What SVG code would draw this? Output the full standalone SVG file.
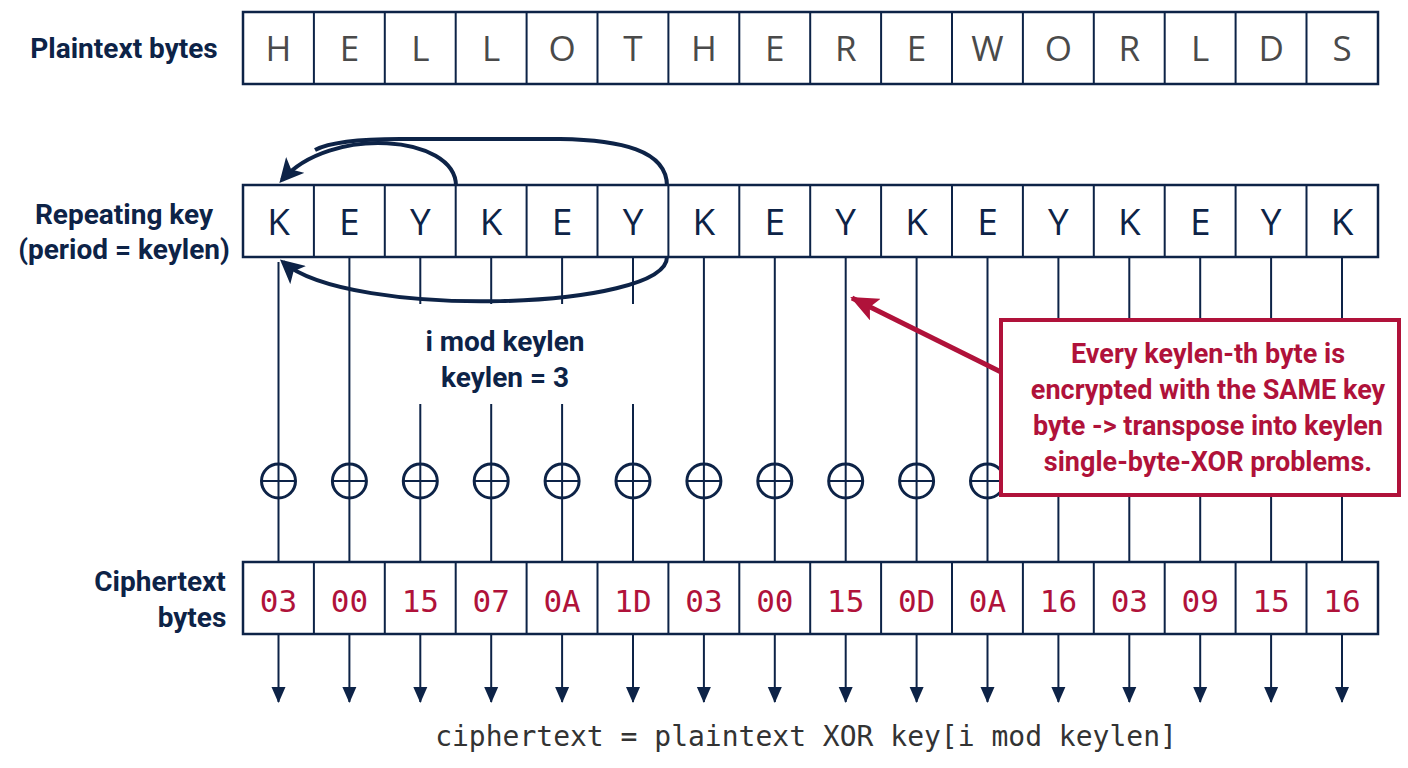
<svg xmlns="http://www.w3.org/2000/svg" width="1408" height="768" viewBox="0 0 1408 768">
<style>
.cell{fill:#fff;stroke:#0d2347;stroke-width:2.5}
.pt{font-family:"Open Sans",sans-serif;font-size:35px;fill:#4a4a4a;text-anchor:middle}
.kt{font-family:"Open Sans",sans-serif;font-size:37px;fill:#0d2347;text-anchor:middle}
.ct{font-family:"DejaVu Sans Mono",monospace;font-size:31px;fill:#b0123a;text-anchor:middle}
.lbl{font-family:"Roboto",sans-serif;font-weight:bold;font-size:28px;fill:#0d2347;text-anchor:middle}
.ln{stroke:#0d2347;stroke-width:2;fill:none}
.arc{stroke:#0d2347;stroke-width:4;fill:none}
.xo{stroke:#0d2347;stroke-width:3;fill:#fff}
</style>
<defs>
<marker id="ah" markerWidth="16" markerHeight="16" refX="15" refY="8" orient="auto" markerUnits="userSpaceOnUse"><path d="M0,1 L16,8 L0,15 z" fill="#0d2347"/></marker>
<marker id="bh" markerWidth="24" markerHeight="24" refX="20" refY="12" orient="auto" markerUnits="userSpaceOnUse"><path d="M0,0 L24,12 L0,24 L6,12 z" fill="#0d2347"/></marker>
<marker id="rh" markerWidth="28" markerHeight="24" refX="26" refY="12" orient="auto" markerUnits="userSpaceOnUse"><path d="M0,0 L28,12 L0,24 L6,12 z" fill="#b0123a"/></marker>
</defs>
<rect width="1408" height="768" fill="#fff"/>
<g id="labels">
<text class="lbl" x="124" y="58">Plaintext bytes</text>
<text class="lbl" x="124" y="224">Repeating key</text>
<text class="lbl" x="124" y="259">(period = keylen)</text>
<text class="lbl" x="160" y="591">Ciphertext</text>
<text class="lbl" x="192" y="627">bytes</text>
</g>
<g id="connectors">
<path class="ln" d="M278.5,262 V562 M349.4,257 V562 M420.3,257 V304 M491.2,257 V304 M562.1,257 V304 M633,257 V304 M420.3,404 V562 M491.2,404 V562 M562.1,404 V562 M633,404 V562 M703.9,257 V562 M774.8,257 V562 M845.7,257 V562 M916.6,257 V562 M987.5,257 V562 M1058.4,257 V562 M1129.3,257 V562 M1200.2,257 V562 M1271.1,257 V562 M1342,257 V562"/>
<g marker-end="url(#ah)" class="ln">
<line x1="278.5" y1="634" x2="278.5" y2="702"/><line x1="349.4" y1="634" x2="349.4" y2="702"/><line x1="420.3" y1="634" x2="420.3" y2="702"/><line x1="491.2" y1="634" x2="491.2" y2="702"/><line x1="562.1" y1="634" x2="562.1" y2="702"/><line x1="633" y1="634" x2="633" y2="702"/><line x1="703.9" y1="634" x2="703.9" y2="702"/><line x1="774.8" y1="634" x2="774.8" y2="702"/><line x1="845.7" y1="634" x2="845.7" y2="702"/><line x1="916.6" y1="634" x2="916.6" y2="702"/><line x1="987.5" y1="634" x2="987.5" y2="702"/><line x1="1058.4" y1="634" x2="1058.4" y2="702"/><line x1="1129.3" y1="634" x2="1129.3" y2="702"/><line x1="1200.2" y1="634" x2="1200.2" y2="702"/><line x1="1271.1" y1="634" x2="1271.1" y2="702"/><line x1="1342" y1="634" x2="1342" y2="702"/>
</g>
<path class="arc" d="M667,186 C667,150 620,140 560,139 L400,139 C360,139 330,142 315,150"/>
<path class="arc" marker-end="url(#bh)" d="M456,186 C456,135 330,125 282,180"/>
<path class="arc" marker-end="url(#bh)" d="M667,257 C667,310 350,320 283,262"/>
</g>
<g id="plaintext">
<rect class="cell" x="243" y="12" width="1135" height="72"/>
<path class="ln" stroke-width="2.5" d="M313.9,12V84M384.8,12V84M455.7,12V84M526.6,12V84M597.5,12V84M668.4,12V84M739.3,12V84M810.2,12V84M881.1,12V84M952,12V84M1022.9,12V84M1093.8,12V84M1164.7,12V84M1235.6,12V84M1306.5,12V84"/>
<text class="pt" y="61"><tspan x="278.5">H</tspan><tspan x="349.4">E</tspan><tspan x="420.3">L</tspan><tspan x="491.2">L</tspan><tspan x="562.1">O</tspan><tspan x="633">T</tspan><tspan x="703.9">H</tspan><tspan x="774.8">E</tspan><tspan x="845.7">R</tspan><tspan x="916.6">E</tspan><tspan x="987.5">W</tspan><tspan x="1058.4">O</tspan><tspan x="1129.3">R</tspan><tspan x="1200.2">L</tspan><tspan x="1271.1">D</tspan><tspan x="1342">S</tspan></text>
</g>
<g id="key">
<rect class="cell" x="243" y="185" width="1135" height="72"/>
<path class="ln" stroke-width="2.5" d="M313.9,185V257M384.8,185V257M455.7,185V257M526.6,185V257M597.5,185V257M668.4,185V257M739.3,185V257M810.2,185V257M881.1,185V257M952,185V257M1022.9,185V257M1093.8,185V257M1164.7,185V257M1235.6,185V257M1306.5,185V257"/>
<text class="kt" y="235"><tspan x="278.5">K</tspan><tspan x="349.4">E</tspan><tspan x="420.3">Y</tspan><tspan x="491.2">K</tspan><tspan x="562.1">E</tspan><tspan x="633">Y</tspan><tspan x="703.9">K</tspan><tspan x="774.8">E</tspan><tspan x="845.7">Y</tspan><tspan x="916.6">K</tspan><tspan x="987.5">E</tspan><tspan x="1058.4">Y</tspan><tspan x="1129.3">K</tspan><tspan x="1200.2">E</tspan><tspan x="1271.1">Y</tspan><tspan x="1342">K</tspan></text>
</g>
<g id="modlabel">
<text class="lbl" x="505" y="351">i mod keylen</text>
<text class="lbl" x="505" y="387">keylen = 3</text>
</g>
<g id="xors">
<g class="xo">
<circle cx="278.5" cy="481" r="17"/><circle cx="349.4" cy="481" r="17"/><circle cx="420.3" cy="481" r="17"/><circle cx="491.2" cy="481" r="17"/><circle cx="562.1" cy="481" r="17"/><circle cx="633" cy="481" r="17"/><circle cx="703.9" cy="481" r="17"/><circle cx="774.8" cy="481" r="17"/><circle cx="845.7" cy="481" r="17"/><circle cx="916.6" cy="481" r="17"/><circle cx="987.5" cy="481" r="17"/>
</g>
<path class="ln" stroke-width="3" d="M261.5,481h34M332.4,481h34M403.3,481h34M474.2,481h34M545.1,481h34M616,481h34M686.9,481h34M757.8,481h34M828.7,481h34M899.6,481h34M970.5,481h34 M278.5,464v34M349.4,464v34M420.3,464v34M491.2,464v34M562.1,464v34M633,464v34M703.9,464v34M774.8,464v34M845.7,464v34M916.6,464v34M987.5,464v34"/>
</g>
<g id="cipher">
<rect class="cell" x="243" y="562" width="1135" height="72"/>
<path class="ln" stroke-width="2.5" d="M313.9,562V634M384.8,562V634M455.7,562V634M526.6,562V634M597.5,562V634M668.4,562V634M739.3,562V634M810.2,562V634M881.1,562V634M952,562V634M1022.9,562V634M1093.8,562V634M1164.7,562V634M1235.6,562V634M1306.5,562V634"/>
<text class="ct" y="612"><tspan x="278.5">03</tspan><tspan x="349.4">00</tspan><tspan x="420.3">15</tspan><tspan x="491.2">07</tspan><tspan x="562.1">0A</tspan><tspan x="633">1D</tspan><tspan x="703.9">03</tspan><tspan x="774.8">00</tspan><tspan x="845.7">15</tspan><tspan x="916.6">0D</tspan><tspan x="987.5">0A</tspan><tspan x="1058.4">16</tspan><tspan x="1129.3">03</tspan><tspan x="1200.2">09</tspan><tspan x="1271.1">15</tspan><tspan x="1342">16</tspan></text>
</g>
<g id="callout">
<rect x="1001" y="320" width="398" height="175" fill="#fff" stroke="#b0123a" stroke-width="4"/>
<g font-family="Roboto,sans-serif" font-weight="bold" font-size="27" fill="#b0123a" text-anchor="middle">
<text x="1208" y="363">Every keylen-th byte is</text>
<text x="1208" y="399">encrypted with the SAME key</text>
<text x="1208" y="435">byte -&gt; transpose into keylen</text>
<text x="1208" y="471">single-byte-XOR problems.</text>
</g>
<line x1="1001" y1="372" x2="852" y2="298" stroke="#b0123a" stroke-width="5" marker-end="url(#rh)"/>
</g>
<text x="806" y="746" font-family="DejaVu Sans Mono,monospace" font-size="28" fill="#333" text-anchor="middle">ciphertext = plaintext XOR key[i mod keylen]</text>
</svg>
